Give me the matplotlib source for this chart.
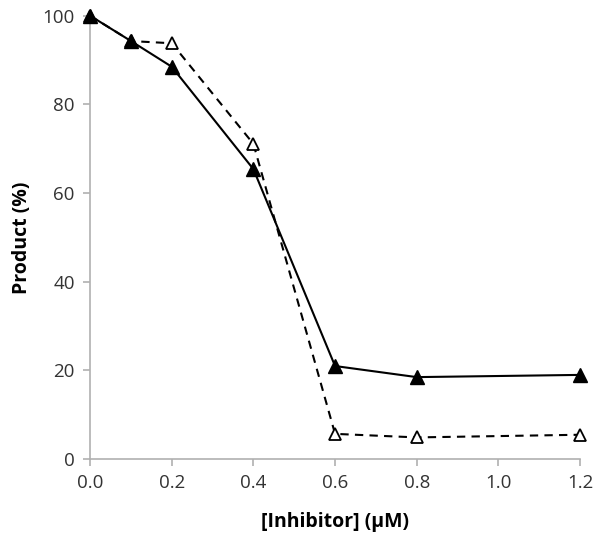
import matplotlib
matplotlib.use("Agg")
import matplotlib.pyplot as plt

# Datos
conc = [0.0, 0.1, 0.2, 0.4, 0.6, 0.8, 1.2]
filled = [100, 94.3, 88.5, 65.4, 21.0, 18.5, 19.0]
opened = [100, 94.3, 93.8, 71.1, 5.7, 4.9, 5.5]
xticks = [0.0, 0.2, 0.4, 0.6, 0.8, 1.0, 1.2]
yticks = [0, 20, 40, 60, 80, 100]

plt.rcParams['font.family'] = ['Open Sans', 'DejaVu Sans']

fig = plt.figure(figsize=(6.01, 5.44), dpi=100)
ax = fig.add_axes([0.15, 0.156, 0.815, 0.815])

# Serie abierta (discontinua)
ax.plot(conc, opened, color='black', linestyle=(0, (4, 3)), linewidth=1.5,
        marker='^', markersize=9, markerfacecolor='white', markeredgecolor='black',
        markeredgewidth=1.3, clip_on=False, zorder=3)
# Serie rellena (continua)
ax.plot(conc, filled, color='black', linestyle='-', linewidth=1.5,
        marker='^', markersize=10, markerfacecolor='black', markeredgecolor='black',
        clip_on=False, zorder=4)

ax.set_xlim(0, 1.2)
ax.set_ylim(0, 100)
ax.set_xticks(xticks)
ax.set_xticklabels(["{:.1f}".format(v) for v in xticks])
ax.set_yticks(yticks)

for s in ['top', 'right']:
    ax.spines[s].set_visible(False)
for s in ['left', 'bottom']:
    ax.spines[s].set_color('#b0b0b0')
    ax.spines[s].set_linewidth(1.2)
ax.tick_params(direction='out', length=5, color='#b0b0b0', width=1.2,
               labelsize=13.5, labelcolor='#333333', pad=6)

ax.set_xlabel("[Inhibitor] (\u03bcM)", fontsize=14, fontweight='bold', labelpad=14)
ax.set_ylabel("Product (%)", fontsize=14, fontweight='bold', labelpad=8)

fig.savefig("out.png", dpi=100)
